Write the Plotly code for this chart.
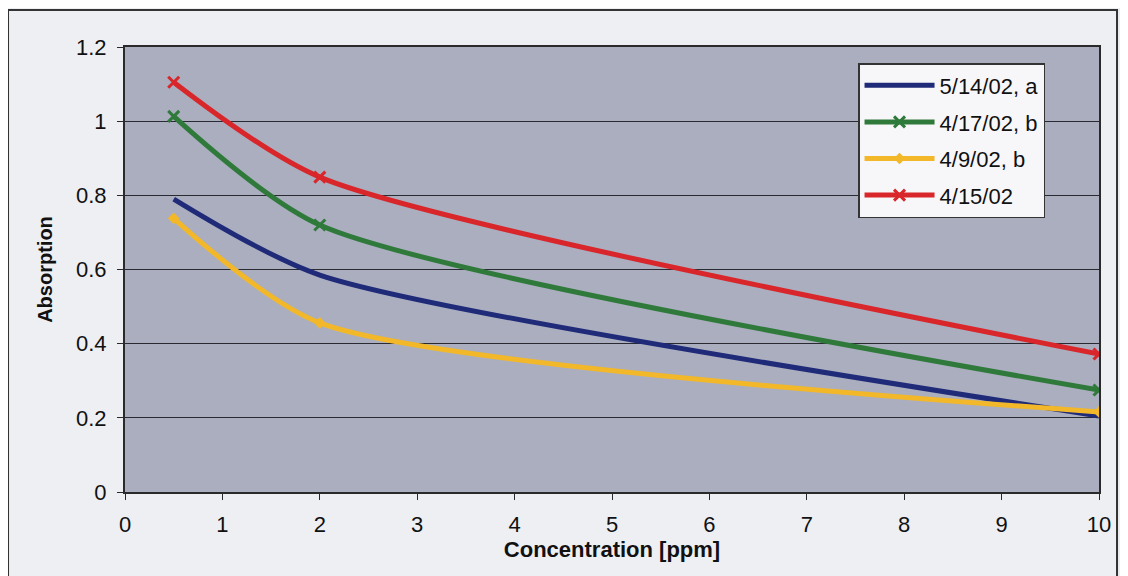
import plotly.graph_objects as go

conc = [0.5, 2, 10]
s_514a = [0.79, 0.585, 0.205]
s_417b = [1.013, 0.72, 0.275]
s_49b = [0.738, 0.456, 0.216]
s_415 = [1.105, 0.849, 0.372]

names = ["5/14/02, a", "4/17/02, b", "4/9/02, b", "4/15/02"]
colors = ["#1f2a78", "#2f7a3a", "#f2b82a", "#d8262a"]
symbols = [None, "x-thin", "diamond", "x-thin"]
series = [s_514a, s_417b, s_49b, s_415]

fig = go.Figure()
for i, (name, ys, col, sym) in enumerate(zip(names, series, colors, symbols)):
    if sym is None:
        mode = "lines"
        marker = dict()
    elif sym == "diamond":
        mode = "lines+markers"
        marker = dict(symbol="diamond", size=9, color=col)
    else:
        mode = "lines+markers"
        marker = dict(symbol=sym, size=11, color=col, line=dict(color=col, width=3))
    fig.add_trace(go.Scatter(
        x=conc, y=ys, name=name, mode=mode, legendgroup=f"g{i}",
        line=dict(color=col, width=5, shape="spline", smoothing=0.7),
        marker=marker,
    ))

axis_line = "#2a2a2a"
fs = 22
fig.update_layout(
    width=1120, height=568,
    margin=dict(l=117, r=29, t=39, b=84),
    paper_bgcolor="#eeeff3",
    plot_bgcolor="#aaaebf",
    font=dict(family="Liberation Sans, Arial, sans-serif", size=fs, color="#111111"),
    showlegend=True,
    legend=dict(
        x=0.7526, y=0.964, xanchor="left", yanchor="top",
        bgcolor="#f7f7f9", bordercolor="#333333", borderwidth=1.5,
        font=dict(size=fs, color="#111111"),
        itemwidth=70, tracegroupgap=5,
    ),
    xaxis=dict(
        range=[0, 10], tickmode="array", tickvals=list(range(0, 11)),
        ticks="outside", ticklen=6, tickcolor=axis_line, ticklabelstandoff=6,
        showline=True, linecolor=axis_line, linewidth=2, mirror=True,
        showgrid=False, zeroline=False,
        title=dict(text="<b>Concentration [ppm]</b>", font=dict(size=fs), standoff=0),
    ),
    yaxis=dict(
        range=[0, 1.2], tickmode="array", tickvals=[0, 0.2, 0.4, 0.6, 0.8, 1, 1.2],
        ticktext=["0", "0.2", "0.4", "0.6", "0.8", "1", "1.2"],
        ticks="outside", ticklen=6, tickcolor=axis_line, ticklabelstandoff=6,
        showline=True, linecolor=axis_line, linewidth=2, mirror=True,
        showgrid=True, gridcolor="#2a2a33", gridwidth=1.2, zeroline=False,
        title=dict(text="<b>Absorption</b>", font=dict(size=fs - 2), standoff=18),
    ),
    shapes=[dict(
        type="rect", xref="paper", yref="paper",
        x0=-0.1201, x1=1.0185, y0=-0.2, y1=1.0831,
        line=dict(color="#333333", width=2), fillcolor="rgba(0,0,0,0)", layer="below",
    )],
)

fig.write_html("out.html")
